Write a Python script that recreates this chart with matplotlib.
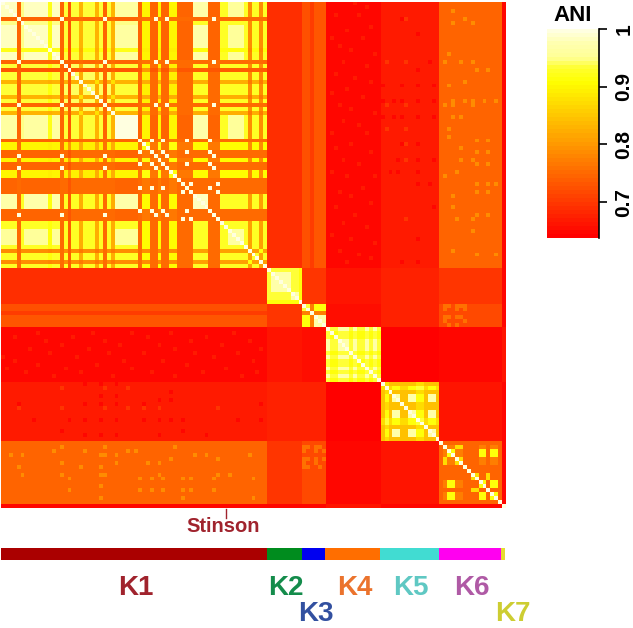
import matplotlib
matplotlib.use('Agg')
import matplotlib.pyplot as plt
from matplotlib.colors import LinearSegmentedColormap
import numpy as np

plt.rcParams['font.family'] = ['Liberation Sans', 'DejaVu Sans']
plt.rcParams['font.weight'] = 'bold'

# Clusters and their colours
cluster_names = ['K1', 'K2', 'K3', 'K4', 'K5', 'K6', 'K7']
cluster_sizes = [68, 9, 6, 14, 15, 16, 1]
bar_colors = ['#aa0000', '#008c1e', '#0000f0', '#ff6e00', '#41dcd2', '#ff00f0', '#e6dc32']
label_colors = ['#a0232d', '#148c4b', '#3250a0', '#eb732d', '#5fc8c3', '#af5aa5', '#cdcd32']

# Mean ANI between two clusters
between = [
    [0.000, 0.690, 0.730, 0.650, 0.670, 0.745, 0.645],
    [0.690, 0.000, 0.700, 0.665, 0.675, 0.700, 0.650],
    [0.730, 0.700, 0.000, 0.655, 0.675, 0.720, 0.650],
    [0.650, 0.665, 0.655, 0.000, 0.640, 0.645, 0.660],
    [0.670, 0.675, 0.675, 0.640, 0.000, 0.665, 0.650],
    [0.745, 0.700, 0.720, 0.645, 0.665, 0.000, 0.650],
    [0.645, 0.650, 0.650, 0.660, 0.650, 0.650, 0.000],
]

# K1 samples by colour family, in plotting order
k1_types = 'aaaadaaaaaaayaadcrccgcccgcdcgaaaaaaehheeheehheeeebbbbeeebbbbbbbfbbfb'
k1_letters = 'acygdrbhef'
k1_pairs = [
    [0.945, 0.935, 0.920, 0.830, 0.745, 0.730, 0.930, 0.900, 0.745, 0.790],
    [0.935, 0.940, 0.912, 0.825, 0.745, 0.730, 0.925, 0.895, 0.750, 0.790],
    [0.920, 0.912, 0.930, 0.820, 0.745, 0.730, 0.912, 0.890, 0.745, 0.780],
    [0.830, 0.825, 0.820, 0.880, 0.750, 0.740, 0.825, 0.820, 0.750, 0.770],
    [0.745, 0.745, 0.745, 0.750, 0.775, 0.740, 0.750, 0.760, 0.750, 0.750],
    [0.730, 0.730, 0.730, 0.740, 0.740, 0.850, 0.740, 0.800, 0.730, 0.740],
    [0.930, 0.925, 0.912, 0.825, 0.750, 0.740, 0.925, 0.905, 0.750, 0.810],
    [0.900, 0.895, 0.890, 0.820, 0.760, 0.800, 0.905, 0.915, 0.765, 0.790],
    [0.745, 0.750, 0.745, 0.750, 0.750, 0.730, 0.750, 0.765, 0.755, 0.755],
    [0.790, 0.790, 0.780, 0.770, 0.750, 0.740, 0.810, 0.790, 0.755, 0.910],
]
# Samples inside K1 that are near identical to each other (white dots)
k1_twins = [
    [4, 15, 26, 39, 42, 54],
    [35, 38, 41, 47, 53],
    [46, 48, 55],
]
# Sample groups of K1 whose crossing looks pale instead of yellow
k1_pale_a = [0, 1, 2, 3, 6, 7, 8, 9, 10, 11, 13, 14]
k1_pale_b = [29, 30, 31, 32, 33, 34]
k1_pale_c = [49, 50, 51, 52]
k1_pale_d = [58, 59, 60, 61]

# Smaller clusters: level letters for each pair of samples
levels = {'W': 1.0, 'P': 0.970, 'L': 0.935, 'Y': 0.910, 'G': 0.87, 'A': 0.84, 'O': 0.775, 'D': 0.745}
k2_rows = ['WLLLLLLLY', 'LWPPPPLLY', 'LPWPPPLLY', 'LPPWPPLLY', 'LPPPWPLLY',
           'LPPPPWLLY', 'LLLLLLWPY', 'LLLLLLPWY', 'YYYYYYYYW']
k3_rows = ['WLOYYY', 'LWOYYY', 'OOWOOO', 'YYOWPP', 'YYOPWP', 'YYOPPW']
k4_types = 'pqqpppqpqqpqpq'
k4_pairs = {'pp': 'P', 'pq': 'L', 'qq': 'Y'}
k5_types = 'tvtuuttuuvvtuut'
k5_pairs = {'uu': 'P', 'tu': 'A', 'uv': 'Y', 'tt': 'A', 'tv': 'G', 'vv': 'L'}
k6_types = 'otuuttoossuusuuo'
k6_pairs = {'uu': 'Y', 'tt': 'G', 'ss': 'G', 'tu': 'O', 'su': 'D', 'st': 'D',
            'oo': 'D', 'ot': 'D', 'ou': 'D', 'os': 'D'}

# K3 samples against K1 differ a bit
k1_k3_row = [0.725, 0.725, 0.705, 0.735, 0.735, 0.735]

# Odd cells (K1 sample, sample in the other cluster)
k1_k6_spots = [(2, 3), (5, 3), (4, 6), (5, 8), (13, 2), (15, 1), (15, 5), (15, 8), (17, 9), (17, 12),
               (21, 2), (20, 6), (25, 3), (25, 6), (25, 8), (25, 11), (25, 14), (26, 1), (26, 3), (26, 8),
               (29, 3), (29, 5), (32, 2), (34, 2), (35, 9), (35, 12), (37, 5), (38, 9), (38, 12), (40, 8),
               (40, 5), (41, 9), (41, 12), (43, 4), (44, 1), (46, 9), (46, 12), (48, 9), (48, 12), (46, 14),
               (49, 3), (52, 3), (54, 9), (54, 12), (55, 4), (55, 8), (58, 8), (63, 3), (64, 9), (64, 14)]
k1_k4_bright = [(0, 7), (1, 10), (3, 2), (3, 8), (6, 11), (7, 5), (9, 1), (9, 9), (11, 3), (12, 6), (13, 12),
                (15, 4), (16, 10), (18, 2), (19, 7), (20, 11), (22, 5), (23, 1), (24, 9), (26, 3), (27, 6),
                (28, 12), (30, 4), (31, 8), (33, 1), (33, 10), (36, 6), (37, 2), (38, 11), (40, 4), (41, 8),
                (43, 1), (44, 5), (44, 12), (47, 9), (48, 3), (49, 6), (51, 11), (52, 2), (54, 7), (56, 4),
                (57, 10), (59, 1), (60, 6), (61, 12), (63, 3), (64, 8), (65, 11), (66, 5)]
k1_k5_dark = [(40, 4), (40, 9), (43, 2), (43, 4), (21, 0), (21, 5), (21, 9), (21, 13), (25, 0), (25, 3),
              (25, 5), (25, 9), (25, 13), (29, 0), (29, 3), (29, 5), (29, 9), (29, 13), (36, 5), (36, 9),
              (40, 13), (43, 9), (46, 12), (46, 9), (4, 5), (8, 9), (15, 12), (17, 9), (52, 13), (60, 9),
              (66, 5), (66, 9)]
k1_k5_bright = [(36, 6), (32, 1), (32, 6), (26, 1), (26, 6), (15, 1), (15, 6), (4, 6), (40, 6), (55, 6)]
k3_k6_bright = [(0, 1), (0, 2), (0, 4), (0, 5), (0, 6), (1, 1), (1, 4), (1, 6), (3, 1), (3, 2),
                (3, 4), (3, 5), (4, 1), (4, 6), (5, 2), (5, 4)]

# Colour bar
bar_low = 0.638
bar_high = 1.0
bar_ticks = [0.7, 0.8, 0.9, 1.0]
bar_tick_labels = ['0.7', '0.8', '0.9', '1']
heat_stops = [(0.0, '#ff0000'), (0.75, '#ffff00'), (0.82, '#ffff30'), (0.87, '#ffff96'), (0.94, '#ffffb0'), (1.0, '#ffffe0')]

stinson_sample = 57.5


def build_matrix():
    n = sum(cluster_sizes)
    starts = np.concatenate([[0], np.cumsum(cluster_sizes)])
    ani = np.zeros((n, n))
    for a in range(7):
        for b in range(7):
            ani[starts[a]:starts[a + 1], starts[b]:starts[b + 1]] = between[a][b]

    # K1 block
    for i, ti in enumerate(k1_types):
        for j, tj in enumerate(k1_types):
            ani[i, j] = k1_pairs[k1_letters.index(ti)][k1_letters.index(tj)]
    pale_pairs = [(k1_pale_a, k1_pale_a, 0.985), (k1_pale_b, k1_pale_b, 0.995), (k1_pale_a, k1_pale_b, 0.96),
                  (k1_pale_c, k1_pale_a, 0.97), (k1_pale_c, k1_pale_b, 0.97), (k1_pale_c, k1_pale_c, 0.985),
                  (k1_pale_d, k1_pale_a, 0.955), (k1_pale_d, k1_pale_b, 0.955), (k1_pale_d, k1_pale_d, 0.96)]
    for group_a, group_b, value in pale_pairs:
        for i in group_a:
            for j in group_b:
                ani[i, j] = value
                ani[j, i] = value
    for twins in k1_twins:
        for i in twins:
            for j in twins:
                ani[i, j] = 0.995

    # Small clusters
    for rows, c in ((k2_rows, 1), (k3_rows, 2)):
        for i, row in enumerate(rows):
            for j, letter in enumerate(row):
                ani[starts[c] + i, starts[c] + j] = levels[letter]
    for types, pairs, c in ((k4_types, k4_pairs, 3), (k5_types, k5_pairs, 4), (k6_types, k6_pairs, 5)):
        for i, ti in enumerate(types):
            for j, tj in enumerate(types):
                ani[starts[c] + i, starts[c] + j] = levels[pairs[''.join(sorted(ti + tj))]]

    # K3 stripes against K1
    for k, value in enumerate(k1_k3_row):
        ani[:68, starts[2] + k] = value
        ani[starts[2] + k, :68] = value

    def spots(cells, c1, c2, value):
        for r, col in cells:
            ani[starts[c1] + r, starts[c2] + col] = value
            ani[starts[c2] + col, starts[c1] + r] = value

    spots(k1_k6_spots, 0, 5, 0.79)
    spots(k1_k4_bright, 0, 3, 0.668)
    spots(k1_k5_dark, 0, 4, 0.648)
    spots(k1_k5_bright, 0, 4, 0.70)
    spots(k3_k6_bright, 2, 5, 0.76)

    np.fill_diagonal(ani, 1.0)
    return ani


if __name__ == "__main__":
    ani = build_matrix()
    n = ani.shape[0]
    cmap = LinearSegmentedColormap.from_list('heat', heat_stops, N=52)

    fig = plt.figure(figsize=(6.33, 6.28), dpi=100)
    w, h = 633.0, 628.0

    ax = fig.add_axes([1 / w, 1 - 508.5 / h, 504 / w, 507 / h])
    ax.imshow(ani, cmap=cmap, vmin=bar_low, vmax=bar_high, aspect='auto',
              interpolation='nearest', extent=(0, n, n, 0))

    # Stinson marker
    ax.plot([stinson_sample, stinson_sample], [n, n + 2.5], color='#a0232d', lw=1, clip_on=False)
    ax.text(stinson_sample - 0.7, n + 4.7, 'Stinson', color='#a0232d', fontsize=14.5, ha='center', va='center',
            clip_on=False)
    ax.set_xlim(0, n)
    ax.set_ylim(n, 0)
    ax.axis('off')

    # Cluster bar
    ax_bar = fig.add_axes([1 / w, 1 - 560 / h, 504 / w, 12 / h])
    left = 0
    for name, size, color, label_color in zip(cluster_names, cluster_sizes, bar_colors, label_colors):
        ax_bar.barh(0, size, left=left, height=1, color=color)
        x_pos = left + size / 2 + 0.5
        low_row = name in ('K3', 'K7')
        if name == 'K7':
            x_pos += 2
        ax_bar.text(x_pos, -5.0 if low_row else -2.83, name, color=label_color, fontsize=20,
                    ha='center', va='center', clip_on=False)
        left += size
    ax_bar.set_xlim(0, n)
    ax_bar.set_ylim(-0.5, 0.5)
    ax_bar.axis('off')

    # Colour key
    ax_key = fig.add_axes([547 / w, 1 - 238 / h, 52 / w, 209 / h])
    key = np.linspace(bar_high, bar_low, 52)[:, None]
    ax_key.imshow(key, cmap=cmap, vmin=bar_low, vmax=bar_high, aspect='auto',
                  interpolation='nearest', extent=(0, 1, bar_low, bar_high))
    ax_key.set_xticks([])
    ax_key.yaxis.tick_right()
    ax_key.set_yticks(bar_ticks)
    ax_key.set_yticklabels(bar_tick_labels, rotation=90, va='center', fontsize=15)
    ax_key.tick_params(axis='y', length=6, width=1.2, pad=5)
    for side in ('top', 'bottom', 'left'):
        ax_key.spines[side].set_visible(False)
    ax_key.spines['right'].set_linewidth(1.2)
    ax_key.set_title('ANI', fontsize=16, fontweight='bold', pad=6)

    fig.savefig('out.png', dpi=100)
